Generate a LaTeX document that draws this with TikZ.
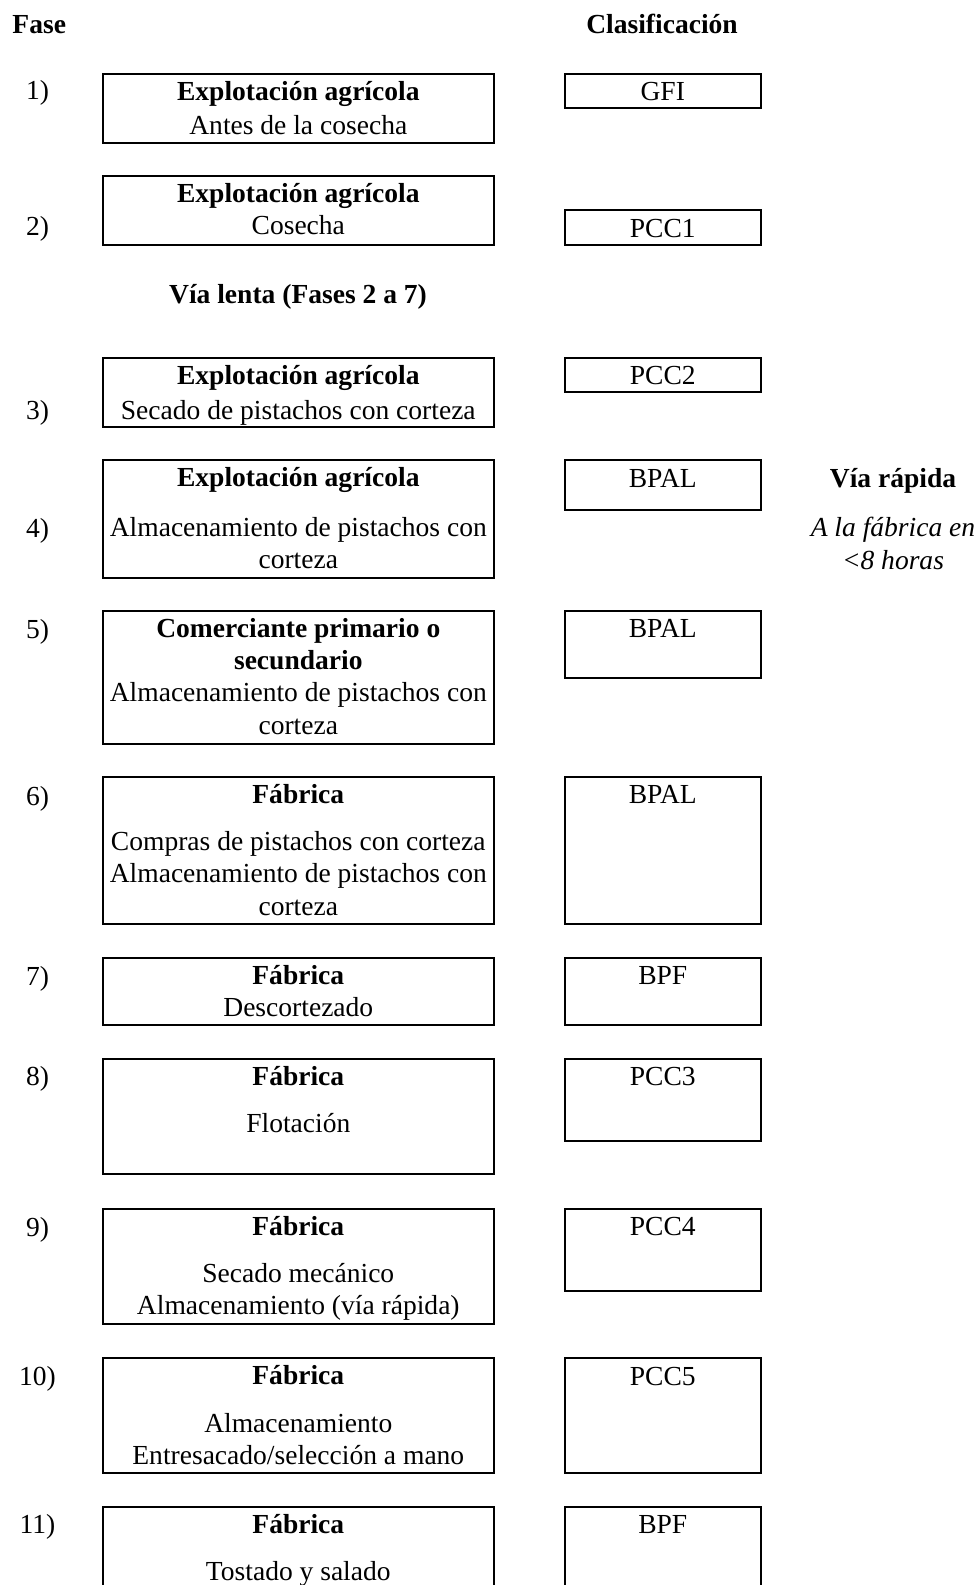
\documentclass[tikz,border=0pt]{standalone}
\usepackage{fontspec}
\setmainfont{Liberation Serif}
\usetikzlibrary{positioning}
\tikzset{every picture/.style={x=0.4358pt, y=-0.4358pt,
    every node/.style={inner sep=0pt, font=\fontsize{12}{14.1}\selectfont}}}
\tikzset{
  etapa/.style={draw, line width=0.9pt, anchor=north west, minimum width=170.2pt, minimum height=#1*0.4358pt},
  clase/.style={draw, line width=0.9pt, anchor=north west, minimum width=85.2pt, minimum height=#1*0.4358pt},
  txt/.style={align=center, execute at begin node=\strut},
  num/.style={anchor=base}
}

\begin{document}
\begin{tikzpicture}

    \useasboundingbox (0,0) rectangle (979,1585);
    \clip (0,0) rectangle (979,1585);

    \node[anchor=base west] (fase) at (12,34) {\textbf{Fase}};
    \node[anchor=base] (clasif) at (662,34) {\textbf{Clasificación}};

    \node[etapa=68.8] (e1) at (102,72.8) {};
    \node[txt, below=3.4pt of e1.north] (t1) {\textbf{Explotación agrícola}\\[1pt]Antes de la cosecha};
    \node[clase=34.4] (c1) at (564,72.8) {};
    \node[txt, below=2.1pt of c1.north] (k1) {GFI};

    \node[etapa=68.7] (e2) at (102,175) {};
    \node[txt, below=3.4pt of e2.north] (t2) {\textbf{Explotación agrícola}\\Cosecha};
    \node[clase=34.3] (c2) at (564,209.4) {};
    \node[txt, below=2.1pt of c2.north] (k2) {PCC1};

    \node[anchor=base] (lenta) at (298,303) {\textbf{Vía lenta (Fases 2 a 7)}};

    \node[etapa=68.8] (e3) at (102,357) {};
    \node[txt, below=3.4pt of e3.north] (t3) {\textbf{Explotación agrícola}\\[1pt]Secado de pistachos con corteza};
    \node[clase=34.4] (c3) at (564,357) {};
    \node[txt, below=2.1pt of c3.north] (k3) {PCC2};

    \node[etapa=117.3] (e4) at (102,459.2) {};
    \node[txt, below=3.4pt of e4.north] (t4) {\textbf{Explotación agrícola}\\[7.5pt]Almacenamiento de pistachos con\\corteza};
    \node[clase=49.5] (c4) at (564,459.2) {};
    \node[txt, below=2.1pt of c4.north] (k4) {BPAL};

    \node[txt, anchor=north] (rapida) at (893,467.8) {\textbf{Vía rápida}\\[7.5pt]\textit{A la fábrica en}\\\textit{<8 horas}};

    \node[etapa=133.5] (e5) at (102,609.9) {};
    \node[txt, below=3.4pt of e5.north] (t5) {\textbf{Comerciante primario o}\\\textbf{secundario}\\Almacenamiento de pistachos con\\corteza};
    \node[clase=66.7] (c5) at (564,609.9) {};
    \node[txt, below=2.1pt of c5.north] (k5) {BPAL};

    \node[etapa=147.7] (e6) at (102,775.7) {};
    \node[txt, below=3.4pt of e6.north] (t6) {\textbf{Fábrica}\\[6.6pt]Compras de pistachos con corteza\\Almacenamiento de pistachos con\\corteza};
    \node[clase=147.7] (c6) at (564,775.7) {};
    \node[txt, below=2.1pt of c6.north] (k6) {BPAL};

    \node[etapa=66.7] (e7) at (102,956.8) {};
    \node[txt, below=3.4pt of e7.north] (t7) {\textbf{Fábrica}\\Descortezado};
    \node[clase=66.7] (c7) at (564,956.8) {};
    \node[txt, below=2.1pt of c7.north] (k7) {BPF};

    \node[etapa=115.3] (e8) at (102,1057.9) {};
    \node[txt, below=3.4pt of e8.north] (t8) {\textbf{Fábrica}\\[6.6pt]Flotación};
    \node[clase=81.9] (c8) at (564,1057.9) {};
    \node[txt, below=2.1pt of c8.north] (k8) {PCC3};

    \node[etapa=115.3] (e9) at (102,1207.6) {};
    \node[txt, below=3.4pt of e9.north] (t9) {\textbf{Fábrica}\\[6.6pt]Secado mecánico\\Almacenamiento (vía rápida)};
    \node[clase=81.9] (c9) at (564,1207.6) {};
    \node[txt, below=2.1pt of c9.north] (k9) {PCC4};

    \node[etapa=114.3] (e10) at (102,1357.3) {};
    \node[txt, below=3.4pt of e10.north] (t10) {\textbf{Fábrica}\\[6.6pt]Almacenamiento\\Entresacado/selección a mano};
    \node[clase=114.3] (c10) at (564,1357.3) {};
    \node[txt, below=2.1pt of c10.north] (k10) {PCC5};

    \node[etapa=134] (e11) at (102,1506) {};
    \node[txt, below=3.4pt of e11.north] (t11) {\textbf{Fábrica}\\[6.6pt]Tostado y salado};
    \node[clase=134] (c11) at (564,1506) {};
    \node[txt, below=2.1pt of c11.north] (k11) {BPF};

    \foreach \n/\y in {1/100, 2/235.5, 3/419.6, 4/537, 5/638, 6/805,
      7/985, 8/1085, 9/1236, 10/1385.5, 11/1533}
      \node[num] (n\n) at (37.5,\y) {\n)};
  \end{tikzpicture}
\end{document}
